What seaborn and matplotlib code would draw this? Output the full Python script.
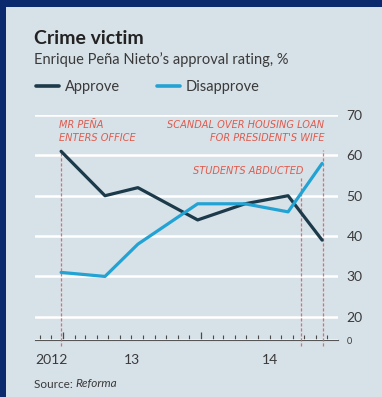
import pandas as pd
import matplotlib
matplotlib.use('Agg')
import matplotlib.pyplot as plt
import matplotlib.dates as mdates
from matplotlib.lines import Line2D
from matplotlib.patches import Rectangle
import seaborn as sns

# Reforma polls, % of respondents
poll_dates = ['2012-12-27', '2013-04-22', '2013-07-18', '2013-12-23',
              '2014-04-27', '2014-08-19', '2014-11-17']
approve = [61, 50, 52, 44, 48, 50, 39]
disapprove = [31, 30, 38, 48, 48, 46, 58]

event_dates = ['2012-12-27', '2014-09-23', '2014-11-19']
event_labels = ['MR PEÑA\nENTERS OFFICE', 'STUDENTS ABDUCTED',
                "SCANDAL OVER HOUSING LOAN\nFOR PRESIDENT'S WIFE"]

year_label_dates = ['2012-12-01', '2013-07-02', '2014-07-02']
year_labels = ['2012', '13', '14']

y_ticks = [14.25, 20, 30, 40, 50, 60, 70]
y_labels = ['0', '20', '30', '40', '50', '60', '70']

sns.set_style('white')
plt.rcParams['font.family'] = ['Lato', 'DejaVu Sans']

dark = '#1c3a4a'
cyan = '#22a3d3'
red = '#e05a4c'
panel = '#d7e1e8'
txt = '#3a3a3a'

df = pd.DataFrame({
    'date': pd.to_datetime(poll_dates * 2),
    'rating': approve + disapprove,
    'series': ['Approve'] * len(approve) + ['Disapprove'] * len(disapprove),
})

W, H = 382, 397
fig = plt.figure(figsize=(W / 100, H / 100), dpi=100, facecolor='#0b2a6e')
fig.patches.append(Rectangle((6 / W, 0), 1, 1 - 7 / H, transform=fig.transFigure,
                             facecolor=panel, edgecolor='none', zorder=-5))

ax = fig.add_axes([35 / W, 1 - 340 / H, 303 / W, 225 / H])
ax.set_facecolor('none')

sns.lineplot(data=df, x='date', y='rating', hue='series',
             palette={'Approve': dark, 'Disapprove': cyan},
             linewidth=2.3, legend=False, ax=ax, zorder=4,
             solid_joinstyle='round', solid_capstyle='round')

ax.set_xlim(pd.Timestamp('2012-10-19'), pd.Timestamp('2014-12-29'))
ax.set_ylim(14.25, 70)

# gridlines
ax.set_yticks(y_ticks)
ax.set_yticklabels(y_labels)
ax.yaxis.tick_right()
ax.tick_params(axis='y', length=0, pad=6, labelsize=10, labelcolor=txt)
ax.yaxis.get_ticklabels()[0].set_fontsize(6.5)
ax.grid(axis='y', color='white', linewidth=1.8)
ax.set_axisbelow(True)

# x axis: yearly and monthly ticks, labels set under the years
ax.xaxis.set_major_locator(mdates.YearLocator())
ax.xaxis.set_minor_locator(mdates.MonthLocator())
ax.tick_params(axis='x', which='both', bottom=True, direction='in', color='#4a4a4a')
ax.tick_params(axis='x', which='major', length=6, width=0.9, labelbottom=False)
ax.tick_params(axis='x', which='minor', length=3.5, width=0.8)
for d, lab in zip(year_label_dates, year_labels):
    ax.text(pd.Timestamp(d), -0.09, lab, transform=ax.get_xaxis_transform(),
            ha='center', va='center', fontsize=10, color=txt)

for s in ['top', 'right', 'left']:
    ax.spines[s].set_visible(False)
ax.spines['bottom'].set_color('#555555')
ax.spines['bottom'].set_linewidth(0.8)
ax.set_xlabel('')
ax.set_ylabel('')

# events
tops = [0.845, 0.72, 0.845]
for d, top in zip(event_dates, tops):
    ax.axvline(pd.Timestamp(d), ymin=-0.025, ymax=top, color=red, alpha=0.85,
               linewidth=0.9, linestyle=(0, (2.5, 1.5)), clip_on=False, zorder=3)

ann = dict(fontsize=7.8, style='italic', color=red, family=['DejaVu Sans'],
           fontstretch='condensed', transform=ax.get_xaxis_transform())
ax.text(pd.Timestamp('2012-12-21'), 0.98, event_labels[0], ha='left', va='top',
        linespacing=1.45, **ann)
ax.text(pd.Timestamp('2014-09-28'), 0.75, event_labels[1], ha='right', va='center', **ann)
ax.text(pd.Timestamp('2014-11-22'), 0.98, event_labels[2], ha='right', va='top',
        linespacing=1.45, multialignment='right', **ann)

# titles
fig.text(34 / W, 1 - 38 / H, 'Crime victim', fontsize=14, fontweight='bold',
         color='#222222', va='center', ha='left')
fig.text(34 / W, 1 - 60 / H, 'Enrique Peña Nieto’s approval rating, %', fontsize=10.5,
         color=txt, va='center', ha='left')

# legend
handles = [Line2D([], [], color=dark, linewidth=2.6),
           Line2D([], [], color=cyan, linewidth=2.6)]
fig.legend(handles, ['Approve', 'Disapprove'], loc='center left',
           bbox_to_anchor=(23 / W, 1 - 87 / H), ncol=2, frameon=False,
           fontsize=10.5, handlelength=1.6, handletextpad=0.4, columnspacing=2.5,
           labelcolor=txt)

# source
src = fig.text(34 / W, 1 - 384 / H, 'Source: ', fontsize=8.5, color=txt,
               va='center', ha='left')
fig.canvas.draw()
bb = src.get_window_extent()
fig.text(bb.x1 / W, 1 - 384 / H, 'Reforma', fontsize=8.5, color=txt,
         style='italic', va='center', ha='left')

fig.savefig('out.png', dpi=100, facecolor=fig.get_facecolor())
